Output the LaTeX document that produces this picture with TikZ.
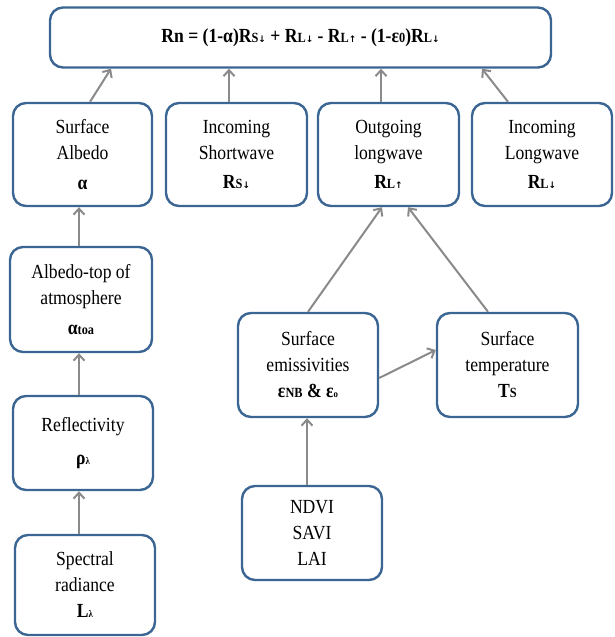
\documentclass[tikz,border=0pt]{standalone}
\usepackage{fontspec}
\setmainfont[FakeStretch=0.88]{Liberation Serif}
\newfontfamily\arrfont{DejaVu Sans}
\usetikzlibrary{arrows.meta}
\definecolor{bx}{HTML}{3B6593}
\definecolor{ar}{HTML}{8A8A8A}
\newcommand{\smc}[1]{{\fontsize{14}{14}\selectfont #1}}
\newcommand{\tny}[1]{{\fontsize{10}{10}\selectfont #1}}
\newcommand{\mydn}{{\arrfont\fontsize{9}{9}\selectfont ↓}}
\newcommand{\myup}{{\arrfont\fontsize{9}{9}\selectfont ↑}}
\begin{document}
\begin{tikzpicture}[x=1pt,y=-1pt,
  box/.style={draw=bx, line width=2.4pt, rounded corners=13pt, fill=white, align=center,
    inner sep=0pt, font=\fontsize{20}{26}\selectfont},
  con/.style={draw=ar, line width=2pt, -{Straight Barb[length=6pt,width=11pt,line width=2pt]}}]
\useasboundingbox (0,0) rectangle (614,637);
\node[box, minimum width=501pt, minimum height=60pt] (top) at (300.5,37.5)
  {\bfseries Rn = (1-α)R\smc{S}\mydn{} + R\smc{L}\mydn{} - R\smc{L}\myup{} - (1-ε\smc{0})R\smc{L}\mydn};
\node[box, minimum width=139pt, minimum height=103pt] (alb) at (82.5,154.5)
  {Surface\\ Albedo\\[4pt] \textbf{α}};
\node[box, minimum width=141pt, minimum height=103pt] (sw) at (236.5,154.5)
  {Incoming\\ Shortwave\\[3pt] \textbf{R\smc{S}\mydn}};
\node[box, minimum width=141pt, minimum height=103pt] (lwout) at (388.5,154.5)
  {Outgoing\\ longwave\\[3pt] \textbf{R\smc{L}\myup}};
\node[box, minimum width=140pt, minimum height=103pt] (lwin) at (542,154.5)
  {Incoming\\ Longwave\\[3pt] \textbf{R\smc{L}\mydn}};
\node[box, minimum width=142pt, minimum height=105pt] (toa) at (81,299.5)
  {Albedo-top of\\ atmosphere\\[4pt] \textbf{α\smc{toa}}};
\node[box, minimum width=140pt, minimum height=94pt] (refl) at (83,443)
  {Reflectivity\\[7pt] \textbf{ρ\tny{λ}}};
\node[box, minimum width=140pt, minimum height=100pt] (spec) at (85,585)
  {Spectral\\ radiance\\ \textbf{L\tny{λ}}};
\node[box, minimum width=140pt, minimum height=104pt] (emis) at (308,365)
  {Surface\\ emissivities\\ \textbf{ε\smc{NB} \& ε\tny{o}}};
\node[box, minimum width=141pt, minimum height=104pt] (temp) at (507.5,365)
  {Surface\\ temperature\\ \textbf{T\smc{S}}};
\node[box, minimum width=140pt, minimum height=94pt] (ndvi) at (312,533)
  {NDVI\\ SAVI\\ LAI};
\draw[con] ([xshift=7.5pt]alb.north) -- ([xshift=-189.5pt]top.south);
\draw[con] ([xshift=-7.5pt]sw.north) -- ([xshift=-71.5pt]top.south);
\draw[con] ([xshift=-7.5pt]lwout.north) -- ([xshift=80.5pt]top.south);
\draw[con] ([xshift=-34pt]lwin.north) -- ([xshift=181.5pt]top.south);
\draw[con] ([xshift=-2pt]toa.north) -- ([xshift=-3.5pt]alb.south);
\draw[con] ([xshift=-4pt]refl.north) -- ([xshift=-2pt]toa.south);
\draw[con] ([xshift=-6pt]spec.north) -- ([xshift=-4pt]refl.south);
\draw[con] (emis.north) -- ([xshift=-6.5pt]lwout.south);
\draw[con] ([xshift=-19.5pt]temp.north) -- ([xshift=19.5pt]lwout.south);
\draw[con] ([yshift=-13pt]emis.east) -- ([yshift=15pt]temp.west);
\draw[con] ([xshift=-5pt]ndvi.north) -- ([xshift=-1pt]emis.south);
\end{tikzpicture}
\end{document}
